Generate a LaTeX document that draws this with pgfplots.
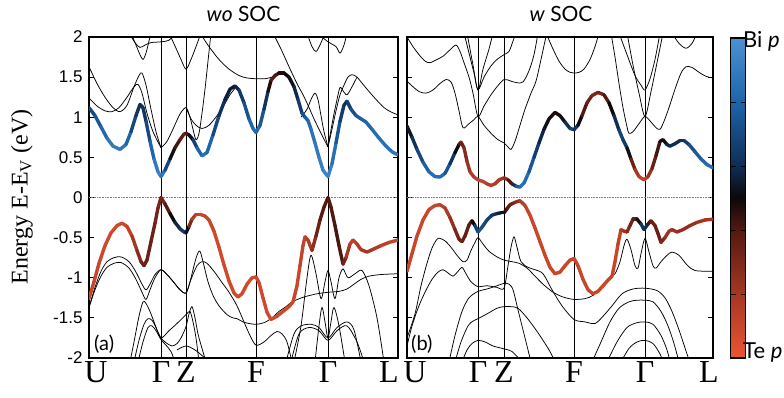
\documentclass[border=0pt]{standalone}
\usepackage{pgfplots}
\pgfplotsset{compat=1.18}
\usepackage{fontspec}
\setmainfont{Liberation Serif}
\newfontfamily\lato{Lato}
\newfontfamily\arial{Liberation Sans}
\pgfplotsset{colormap={tebi}{rgb255(0cm)=(235,85,50); rgb255(2cm)=(165,55,35); rgb255(4cm)=(85,25,18); rgb255(5cm)=(12,8,8); rgb255(6cm)=(15,45,85); rgb255(8cm)=(30,100,170); rgb255(10cm)=(75,145,210)}}
\pgfplotsset{
 bandax/.style={scale only axis, height=321pt, ymin=-2, ymax=2, anchor=south west,
  axis line style={line width=1.6pt},
  ytick={-2,-1.5,-1,-0.5,0,0.5,1,1.5,2},
  tick align=inside, major tick length=5pt, tick pos=both,
  ytick style={black, line width=0.9pt}, xtick style={draw=none},
  xmajorgrids, grid style={black, line width=0.9pt},
  xticklabel style={font=\fontsize{32}{32}\selectfont},
  point meta min=0, point meta max=1, colormap name=tebi},
 bl/.style={black, line width=0.75pt, smooth, tension=0.5, mark=none},
 cb/.style={mesh, point meta=explicit, line width=3.4pt, line cap=round, mark=none},
 zl/.style={gray, densely dotted, line width=0.6pt}
}
\begin{document}
\begin{tikzpicture}
\path[use as bounding box] (0,0) rectangle (784pt,-398pt);
% ---------------- panel (a)
\begin{axis}[bandax, at={(89pt,-358pt)}, width=309pt, xmin=0, xmax=309,
 xtick={0,72,97,167,239,309},
 xticklabels={\hspace*{14pt}U,Γ,Z,F,Γ,L\hspace*{18pt}},
 yticklabels={-2,-1.5,-1,-0.5,0,0.5,1,1.5,2},
 yticklabel style={font=\arial\fontsize{17}{17}\selectfont, xshift=-3pt}]
\addplot[zl] coordinates {(0,0) (309,0)};
% top lines
\addplot[bl] coordinates {(0,1.63) (8,1.42) (16,1.25) (24,1.12) (31,1.07) (38,1.15) (45,1.38) (50,1.52) (53,1.55) (57,1.40) (62,1.10) (67,0.82) (72,0.62)};
\addplot[bl] coordinates {(0,1.24) (8,1.14) (16,1.08) (23,1.07) (30,1.12) (38,1.25) (45,1.38) (49,1.41) (53,1.30) (58,1.05) (64,0.82) (72,0.62)};
\addplot[bl] coordinates {(72,0.62) (78,0.70) (85,0.88) (91,1.04) (97,1.12) (101,1.00) (104,0.85) (107,0.72) (110,0.80) (113,1.05) (116,1.35) (119,1.70) (122,2.05)};
\addplot[bl] coordinates {(97,1.12) (102,0.98) (107,0.90) (113,0.86) (120,0.90) (128,1.02) (135,1.15) (141,1.28) (146,1.36)};
\addplot[bl] coordinates {(42,2.05) (47,1.90) (51,1.78) (54,1.72) (57,1.80) (60,1.95) (62,2.05)};
\addplot[bl] coordinates {(40,2.05) (46,1.93) (51,1.87) (56,1.90) (62,1.93) (72,1.94) (80,1.96) (86,2.05)};
\addplot[bl] coordinates {(80,2.05) (87,1.86) (92,1.72) (97,1.60) (102,1.72) (107,1.88) (112,2.05)};
\addplot[bl] coordinates {(111,2.05) (120,1.88) (130,1.72) (140,1.60) (150,1.52) (158,1.49) (167,1.48) (176,1.48) (183,1.50)};
\addplot[bl] coordinates {(184,2.05) (192,1.85) (200,1.63) (208,1.42) (214,1.28) (219,1.15) (225,0.98) (232,0.80) (239,0.63)};
\addplot[bl] coordinates {(212,1.00) (218,1.10) (222,1.22) (226,1.30) (229,1.22) (232,1.02) (235,0.82) (239,0.63)};
\addplot[bl] coordinates {(239,0.63) (243,0.85) (247,1.08) (251,1.28) (255,1.40) (259,1.50) (263,1.53) (268,1.50) (276,1.38) (285,1.25) (295,1.12) (303,1.06) (309,1.03)};
\addplot[bl] coordinates {(239,0.63) (244,0.98) (248,1.22) (251,1.37) (254,1.33) (258,1.28) (263,1.38) (268,1.50)};
\addplot[bl] coordinates {(218,2.05) (223,1.88) (227,1.82) (231,1.90) (236,2.05)};
\addplot[bl] coordinates {(228,2.05) (239,1.94) (247,1.88) (251,1.80) (255,1.90) (258,2.05)};
% bottom lines
\addplot[bl] coordinates {(0,-1.37) (6,-1.12) (12,-0.92) (18,-0.80) (25,-0.75) (32,-0.74) (40,-0.80) (47,-0.93) (53,-1.08) (57,-1.15) (61,-1.08) (66,-0.96) (72,-0.90) (78,-0.96) (85,-1.06) (91,-1.15) (97,-1.19) (101,-1.05) (105,-0.85) (108,-0.72) (111,-0.67) (115,-0.85) (119,-1.05) (124,-1.22) (130,-1.35) (138,-1.46) (144,-1.50) (148,-1.51) (154,-1.55) (160,-1.57) (167,-1.58) (175,-1.56) (183,-1.50) (190,-1.42) (197,-1.36) (203,-1.30) (215,-1.24) (228,-1.20) (240,-1.18) (250,-1.17) (258,-1.14) (265,-1.08) (272,-1.02) (280,-0.98) (292,-0.96) (309,-0.95)};
\addplot[bl] coordinates {(0,-1.37) (6,-1.15) (12,-0.98) (18,-0.87) (25,-0.82) (32,-0.81) (40,-0.88) (47,-1.02) (53,-1.18) (57,-1.27) (61,-1.15) (66,-1.00) (72,-0.90) (78,-0.96) (85,-1.06) (91,-1.15) (97,-1.19) (102,-1.02) (108,-0.85) (113,-0.80) (118,-0.82) (125,-0.92) (133,-1.06) (140,-1.18) (148,-1.35) (155,-1.55) (161,-1.72) (167,-1.84) (175,-1.80) (182,-1.72) (188,-1.67) (193,-1.70) (198,-1.80) (203,-2.05)};
\addplot[bl] coordinates {(205,-2.05) (212,-1.6) (218,-1.0) (222,-0.72) (227,-0.95) (232,-1.26) (236,-1.05) (239,-0.91) (242,-1.05) (246,-1.26) (250,-1.0) (254,-0.89) (259,-1.0) (266,-0.95) (273,-0.91) (280,-1.1) (288,-1.5) (295,-2.05)};
\addplot[bl] coordinates {(197,-2.05) (205,-1.70) (212,-1.60) (222,-1.58) (230,-1.62) (239,-1.75) (248,-1.62) (258,-1.55) (265,-1.65) (272,-2.05)};
\addplot[bl] coordinates {(202,-2.05) (210,-1.70) (220,-1.62) (230,-1.66) (239,-1.78) (248,-1.66) (258,-1.60) (268,-1.80) (275,-2.05)};
\addplot[bl] coordinates {(226,-2.05) (230,-1.6) (233,-1.37) (236,-1.55) (239,-1.75) (242,-1.55) (245,-1.37) (250,-1.6) (256,-2.05)};
\addplot[bl] coordinates {(41,-2.05) (45,-1.80) (50,-1.48) (54,-1.30) (57,-1.32) (61,-1.42) (65,-1.55) (68,-1.65) (72,-1.75) (77,-1.81) (83,-1.85) (88,-1.82) (92,-1.75) (97,-1.61) (100,-1.45) (103,-1.36) (106,-1.50) (109,-1.70) (113,-1.88) (117,-2.05)};
\addplot[bl] coordinates {(45,-2.05) (50,-1.78) (55,-1.58) (59,-1.51) (63,-1.53) (67,-1.62) (72,-1.75) (80,-1.66) (88,-1.57) (97,-1.46) (101,-1.42) (104,-1.55) (107,-1.75) (110,-2.05)};
\addplot[bl] coordinates {(49,-2.05) (54,-1.80) (59,-1.62) (63,-1.60) (67,-1.66) (72,-1.77) (77,-1.84) (82,-1.92) (86,-2.05)};
\addplot[bl] coordinates {(88,-1.90) (97,-1.85) (106,-1.90) (114,-1.98) (120,-2.05)};
% coloured bands
\addplot[cb] table[meta=c, row sep=\\] {x y c\\
0 1.12 0.68\\ 6 1.02 0.72\\ 12 0.88 0.78\\ 18 0.74 0.85\\ 24 0.64 0.9\\ 31 0.60 0.9\\ 37 0.66 0.85\\ 42 0.82 0.75\\ 47 1.02 0.65\\ 51 1.16 0.6\\ 54 1.12 0.6\\ 57 0.95 0.65\\ 61 0.70 0.75\\ 65 0.48 0.85\\ 69 0.32 0.92\\ 72 0.26 0.95\\ 76 0.34 0.8\\ 81 0.48 0.6\\ 86 0.62 0.45\\ 91 0.72 0.4\\ 95 0.79 0.35\\ 97 0.80 0.35\\ 100 0.78 0.45\\ 104 0.72 0.6\\ 108 0.62 0.75\\ 113 0.52 0.85\\ 118 0.56 0.85\\ 124 0.78 0.75\\ 130 1.02 0.65\\ 136 1.22 0.58\\ 141 1.35 0.55\\ 146 1.39 0.55\\ 150 1.34 0.6\\ 155 1.18 0.68\\ 160 0.98 0.78\\ 164 0.86 0.82\\ 167 0.81 0.85\\ 171 0.90 0.8\\ 175 1.10 0.7\\ 179 1.32 0.55\\ 182 1.46 0.4\\ 186 1.52 0.38\\ 190 1.55 0.45\\ 195 1.55 0.5\\ 200 1.50 0.5\\ 205 1.38 0.55\\ 209 1.22 0.62\\ 213 1.05 0.7\\ 216 1.00 0.75\\ 219 0.96 0.8\\ 222 0.85 0.85\\ 226 0.68 0.88\\ 230 0.50 0.9\\ 234 0.34 0.93\\ 239 0.26 0.95\\ 243 0.42 0.9\\ 247 0.68 0.8\\ 251 0.95 0.7\\ 255 1.15 0.6\\ 258 1.20 0.62\\ 262 1.10 0.7\\ 267 1.02 0.75\\ 272 0.98 0.78\\ 277 0.94 0.8\\ 283 0.85 0.82\\ 290 0.74 0.85\\ 297 0.64 0.85\\ 303 0.57 0.87\\ 309 0.53 0.88\\
};
\addplot[cb] table[meta=c, row sep=\\] {x y c\\
0 -1.26 0.1\\ 5 -1.05 0.1\\ 10 -0.82 0.1\\ 16 -0.60 0.08\\ 22 -0.44 0.08\\ 28 -0.35 0.08\\ 33 -0.32 0.08\\ 38 -0.36 0.1\\ 43 -0.48 0.15\\ 48 -0.66 0.25\\ 52 -0.80 0.3\\ 55 -0.85 0.35\\ 58 -0.78 0.35\\ 62 -0.55 0.35\\ 66 -0.32 0.33\\ 69 -0.13 0.32\\ 72 0.00 0.3\\ 76 -0.08 0.35\\ 81 -0.20 0.45\\ 86 -0.31 0.55\\ 91 -0.39 0.62\\ 95 -0.43 0.65\\ 97 -0.44 0.65\\ 100 -0.36 0.4\\ 103 -0.27 0.2\\ 107 -0.21 0.12\\ 111 -0.21 0.1\\ 116 -0.23 0.1\\ 120 -0.28 0.1\\ 125 -0.42 0.08\\ 130 -0.62 0.08\\ 135 -0.84 0.08\\ 140 -1.04 0.08\\ 145 -1.19 0.08\\ 149 -1.24 0.08\\ 153 -1.20 0.08\\ 158 -1.08 0.08\\ 163 -1.00 0.08\\ 167 -0.99 0.08\\ 170 -1.06 0.08\\ 174 -1.25 0.08\\ 178 -1.43 0.08\\ 182 -1.52 0.08\\ 188 -1.48 0.08\\ 194 -1.42 0.08\\ 200 -1.36 0.08\\ 204 -1.30 0.1\\ 208 -1.10 0.1\\ 211 -0.85 0.1\\ 214 -0.60 0.12\\ 216 -0.49 0.12\\ 219 -0.53 0.15\\ 223 -0.66 0.2\\ 227 -0.48 0.3\\ 231 -0.28 0.38\\ 235 -0.12 0.4\\ 239 0.00 0.4\\ 242 -0.12 0.4\\ 246 -0.35 0.42\\ 250 -0.60 0.42\\ 254 -0.83 0.4\\ 257 -0.75 0.25\\ 261 -0.58 0.15\\ 264 -0.53 0.12\\ 268 -0.58 0.15\\ 272 -0.65 0.2\\ 278 -0.68 0.2\\ 285 -0.64 0.2\\ 292 -0.60 0.15\\ 300 -0.56 0.12\\ 309 -0.53 0.12\\
};
\end{axis}
% ---------------- panel (b)
\begin{axis}[bandax, at={(407pt,-358pt)}, width=306pt, xmin=0, xmax=306,
 xtick={0,71,97,167,238,306},
 xticklabels={\hspace*{16pt}U,Γ,Z,F,Γ,L\hspace*{8pt}},
 yticklabels={},
 colorbar right,
 colorbar style={scale only axis, width=15pt, height=320pt, at={(parent axis.north east)}, anchor=north west, xshift=9pt, yshift=-1pt,
   ytick={0.2,0.4,0.6,0.8}, yticklabels={}, ytick pos=both, ytick align=inside, major tick length=5pt,
   ytick style={black, line width=1pt}, axis line style={line width=1.4pt}}]
\addplot[zl] coordinates {(0,0) (306,0)};
% top lines
\addplot[bl] coordinates {(0,2.0) (6,1.88) (12,1.78) (18,1.70) (23,1.68) (30,1.72) (36,1.76) (43,1.84) (49,1.90) (53,1.82) (57,1.68) (62,1.50) (66,1.30) (71,1.01) (77,1.14) (84,1.28) (90,1.38) (97,1.47) (104,1.45) (110,1.43) (116,1.44) (122,1.58) (127,1.78) (131,2.05)};
\addplot[bl] coordinates {(0,1.45) (6,1.38) (12,1.32) (19,1.30) (26,1.34) (33,1.42) (39,1.47) (44,1.44) (48,1.30) (52,1.08) (56,0.87) (62,0.92) (67,0.97) (71,1.01) (77,0.90) (84,0.80) (91,0.72) (97,0.68) (101,0.63) (104,0.60) (108,0.70) (113,0.90) (118,1.10) (124,1.30) (129,1.45) (134,1.72) (138,1.95) (140,2.05)};
\addplot[bl] coordinates {(57,2.05) (62,1.80) (67,1.55) (71,1.34) (77,1.50) (84,1.64) (90,1.72) (97,1.78) (102,1.82) (106,1.95) (109,2.05)};
\addplot[bl] coordinates {(60,2.05) (66,1.65) (71,1.34) (76,1.60) (82,1.85) (86,2.05)};
\addplot[bl] coordinates {(139,2.05) (146,1.85) (152,1.70) (158,1.60) (163,1.56) (167,1.55) (172,1.56) (177,1.60) (183,1.72) (188,1.88) (192,2.05)};
\addplot[bl] coordinates {(204,2.05) (208,1.75) (212,1.42) (216,1.12) (220,0.88) (222,0.80) (226,0.82) (232,0.92) (238,1.01) (244,0.94) (249,0.87) (253,0.85) (257,0.95) (262,1.12) (268,1.35) (274,1.55) (279,1.63) (285,1.62) (292,1.56) (299,1.51) (306,1.49)};
\addplot[bl] coordinates {(212,2.05) (220,1.78) (228,1.52) (234,1.40) (238,1.34) (243,1.48) (248,1.72) (253,2.05)};
\addplot[bl] coordinates {(220,2.05) (226,1.65) (232,1.30) (238,1.01) (244,1.32) (250,1.68) (256,2.05)};
\addplot[bl] coordinates {(265,2.05) (272,1.92) (279,1.86) (285,1.92) (290,2.05)};
% bottom lines
\addplot[bl] coordinates {(0,-1.75) (8,-1.45) (14,-1.10) (20,-0.82) (25,-0.63) (30,-0.52) (33,-0.51) (38,-0.54) (44,-0.62) (50,-0.72) (56,-0.80) (60,-0.78) (64,-0.66) (68,-0.56) (71,-0.50) (76,-0.58) (82,-0.67) (90,-0.74) (97,-0.78) (105,-0.80) (112,-0.82) (120,-0.88) (128,-0.98) (136,-1.08) (146,-1.18) (156,-1.24) (167,-1.27) (178,-1.26) (186,-1.22) (194,-1.12) (202,-1.00) (208,-0.95) (213,-0.80) (217,-0.60) (220,-0.52) (224,-0.65) (228,-0.85) (231,-0.88) (234,-0.70) (238,-0.51) (242,-0.68) (246,-0.85) (249,-0.88) (254,-0.80) (260,-0.72) (265,-0.68) (272,-0.72) (280,-0.84) (288,-0.91) (306,-0.92)};
\addplot[bl] coordinates {(0,-1.85) (5,-1.60) (11,-1.38) (18,-1.18) (25,-1.02) (31,-0.93) (36,-0.90) (41,-0.94) (46,-0.98) (51,-0.92) (55,-0.87) (59,-0.95) (64,-1.05) (71,-1.11) (80,-1.10) (90,-1.12) (97,-1.13) (101,-0.85) (104,-0.62) (107,-0.49) (110,-0.62) (114,-0.80) (121,-0.87) (128,-0.90) (136,-0.95) (145,-1.15) (155,-1.35) (167,-1.52) (178,-1.55) (188,-1.57) (196,-1.48) (205,-1.35) (215,-1.20) (226,-1.14) (238,-1.13) (250,-1.16) (258,-1.25) (265,-1.42) (272,-1.65) (280,-1.95) (283,-2.05)};
\addplot[bl] coordinates {(42,-2.05) (48,-1.72) (55,-1.42) (62,-1.25) (71,-1.17) (80,-1.14) (90,-1.10) (97,-1.07) (102,-1.08) (106,-1.15) (111,-1.40) (116,-1.65) (120,-1.85) (124,-2.05)};
\addplot[bl] coordinates {(48,-2.05) (54,-1.80) (61,-1.60) (66,-1.54) (71,-1.51) (80,-1.45) (90,-1.38) (97,-1.36) (104,-1.36) (111,-1.38) (120,-1.50) (129,-1.65) (136,-1.78) (143,-1.92) (148,-2.05)};
\addplot[bl] coordinates {(55,-2.05) (60,-1.90) (65,-1.82) (71,-1.78) (78,-1.80) (86,-1.85) (95,-1.88) (105,-1.92) (115,-2.05)};
\addplot[bl] coordinates {(185,-2.05) (194,-1.80) (203,-1.55) (212,-1.38) (222,-1.30) (230,-1.28) (238,-1.28) (246,-1.30) (254,-1.42) (261,-1.60) (267,-1.82) (272,-2.05)};
\addplot[bl] coordinates {(200,-2.05) (210,-1.80) (220,-1.62) (230,-1.56) (238,-1.55) (246,-1.58) (254,-1.72) (260,-1.90) (263,-2.05)};
\addplot[bl] coordinates {(214,-2.05) (222,-1.88) (230,-1.80) (238,-1.78) (246,-1.82) (253,-1.95) (256,-2.05)};
% coloured bands
\addplot[cb] table[meta=c, row sep=\\] {x y c\\
0 0.89 0.5\\ 5 0.75 0.58\\ 10 0.60 0.65\\ 16 0.44 0.75\\ 22 0.32 0.82\\ 28 0.26 0.85\\ 33 0.255 0.85\\ 38 0.30 0.8\\ 43 0.42 0.7\\ 48 0.56 0.55\\ 52 0.66 0.45\\ 54 0.69 0.38\\ 57 0.62 0.3\\ 60 0.45 0.25\\ 63 0.32 0.2\\ 67 0.255 0.15\\ 71 0.22 0.12\\ 76 0.20 0.12\\ 80 0.17 0.15\\ 84 0.15 0.15\\ 88 0.17 0.15\\ 92 0.22 0.18\\ 97 0.245 0.2\\ 101 0.22 0.3\\ 105 0.17 0.5\\ 109 0.14 0.7\\ 113 0.13 0.85\\ 117 0.18 0.85\\ 122 0.32 0.8\\ 127 0.50 0.7\\ 132 0.68 0.62\\ 137 0.85 0.55\\ 142 0.98 0.5\\ 148 1.06 0.45\\ 153 1.02 0.5\\ 158 0.94 0.55\\ 163 0.86 0.65\\ 167 0.845 0.7\\ 171 0.90 0.55\\ 175 1.02 0.45\\ 180 1.18 0.35\\ 185 1.27 0.32\\ 191 1.31 0.3\\ 197 1.28 0.35\\ 202 1.18 0.45\\ 207 1.02 0.55\\ 212 0.84 0.65\\ 216 0.72 0.7\\ 220 0.62 0.6\\ 224 0.48 0.45\\ 228 0.35 0.25\\ 232 0.26 0.15\\ 237 0.22 0.12\\ 241 0.26 0.15\\ 245 0.36 0.3\\ 249 0.52 0.4\\ 253 0.70 0.45\\ 256 0.72 0.5\\ 260 0.66 0.55\\ 263 0.64 0.6\\ 268 0.67 0.6\\ 273 0.71 0.6\\ 277 0.71 0.62\\ 282 0.66 0.68\\ 288 0.57 0.75\\ 294 0.48 0.8\\ 300 0.41 0.82\\ 306 0.37 0.85\\
};
\addplot[cb] table[meta=c, row sep=\\] {x y c\\
0 -0.92 0.1\\ 5 -0.70 0.1\\ 10 -0.48 0.1\\ 16 -0.28 0.1\\ 22 -0.15 0.1\\ 28 -0.10 0.1\\ 33 -0.09 0.12\\ 38 -0.13 0.15\\ 43 -0.25 0.2\\ 48 -0.40 0.28\\ 52 -0.52 0.35\\ 55 -0.55 0.35\\ 58 -0.48 0.35\\ 62 -0.34 0.38\\ 65 -0.29 0.4\\ 68 -0.35 0.6\\ 71 -0.43 0.75\\ 75 -0.37 0.72\\ 80 -0.28 0.68\\ 85 -0.22 0.65\\ 90 -0.20 0.6\\ 94 -0.19 0.55\\ 97 -0.19 0.5\\ 100 -0.14 0.4\\ 103 -0.09 0.35\\ 108 -0.06 0.3\\ 113 -0.04 0.2\\ 118 -0.10 0.12\\ 123 -0.22 0.1\\ 128 -0.38 0.1\\ 133 -0.55 0.1\\ 138 -0.72 0.1\\ 143 -0.87 0.1\\ 148 -0.95 0.1\\ 153 -0.93 0.1\\ 158 -0.85 0.1\\ 163 -0.78 0.1\\ 167 -0.76 0.1\\ 171 -0.85 0.1\\ 176 -1.02 0.1\\ 181 -1.15 0.1\\ 186 -1.20 0.1\\ 191 -1.17 0.1\\ 196 -1.10 0.1\\ 201 -1.03 0.1\\ 205 -0.98 0.1\\ 208 -0.80 0.1\\ 211 -0.58 0.1\\ 214 -0.40 0.15\\ 217 -0.42 0.2\\ 220 -0.43 0.25\\ 223 -0.35 0.3\\ 226 -0.27 0.35\\ 230 -0.27 0.4\\ 234 -0.33 0.55\\ 237 -0.40 0.7\\ 241 -0.33 0.5\\ 244 -0.29 0.35\\ 248 -0.35 0.35\\ 251 -0.45 0.35\\ 254 -0.56 0.35\\ 258 -0.50 0.25\\ 262 -0.42 0.2\\ 265 -0.40 0.2\\ 270 -0.43 0.25\\ 276 -0.40 0.25\\ 283 -0.35 0.25\\ 290 -0.31 0.22\\ 298 -0.28 0.2\\ 306 -0.27 0.2\\
};
\end{axis}
% ---------------- text
\node[anchor=base] at (243.5pt,-22pt) {\lato\fontsize{21}{21}\selectfont\textit{wo} SOC};
\node[anchor=base] at (561pt,-22pt) {\lato\fontsize{21}{21}\selectfont\textit{w} SOC};
\node[rotate=90, anchor=center] at (22pt,-197pt) {\fontsize{24}{24}\selectfont Energy E-E\textsubscript{V} (eV)};
\node[anchor=base west, inner sep=0pt] at (94pt,-350pt) {\lato\fontsize{20}{20}\selectfont (a)};
\node[anchor=base west, inner sep=0pt] at (411pt,-350pt) {\lato\fontsize{20}{20}\selectfont (b)};
\node[anchor=base west, inner sep=0pt] at (743pt,-48pt) {\lato\fontsize{22}{22}\selectfont Bi \textit{p}};
\node[anchor=base west, inner sep=0pt] at (743pt,-358pt) {\lato\fontsize{22}{22}\selectfont Te \textit{p}};
\end{tikzpicture}
\end{document}
